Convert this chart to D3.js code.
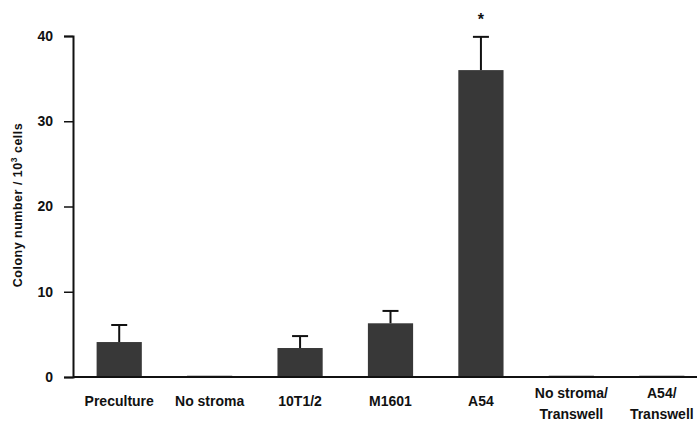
<!DOCTYPE html>
<html>
<head>
<meta charset="utf-8">
<script src="https://cdn.jsdelivr.net/npm/d3@7"></script>
<style>
  body { margin: 0; background: #fff; }
  svg { display: block; }
  text { font-family: "Liberation Sans", Arial, sans-serif; font-weight: bold; fill: #111; }
</style>
</head>
<body>
<svg width="699" height="421"></svg>
<script>
// categories and values
const categories = ["Preculture", "No stroma", "10T1/2", "M1601", "A54", "No stroma/\nTranswell", "A54/\nTranswell"];
const means = [4.1, 0.15, 3.4, 6.3, 36.0, 0.15, 0.15];
const errors = [2.0, 0, 1.4, 1.45, 3.9, 0, 0];
const significant = [false, false, false, false, true, false, false];
const yTicks = [0, 10, 20, 30, 40];

const svg = d3.select("svg");
const margin = {left: 73, top: 36, bottom: 377};

const x = d3.scaleBand()
    .domain(categories)
    .range([margin.left + 1, 707])
    .paddingInner(0.5)
    .paddingOuter(0.25);

const y = d3.scaleLinear()
    .domain([0, 40])
    .range([margin.bottom, margin.top]);

const data = categories.map((c, i) => ({cat: c, v: means[i], e: errors[i], sig: significant[i]}));

// bars
svg.selectAll(".bar")
    .data(data)
    .enter()
    .append("rect")
    .attr("class", "bar")
    .attr("x", (d) => x(d.cat))
    .attr("width", x.bandwidth())
    .attr("y", (d) => y(d.v))
    .attr("height", (d) => y(0) - y(d.v))
    .attr("fill", "#383838");

// error bars (upper only)
const err = svg.selectAll(".err")
    .data(data.filter((d) => d.e > 0))
    .enter()
    .append("g")
    .attr("class", "err")
    .attr("stroke", "#111")
    .attr("stroke-width", 2);

err.append("line")
    .attr("x1", (d) => x(d.cat) + x.bandwidth() / 2)
    .attr("x2", (d) => x(d.cat) + x.bandwidth() / 2)
    .attr("y1", (d) => y(d.v))
    .attr("y2", (d) => y(d.v + d.e));

err.append("line")
    .attr("x1", (d) => x(d.cat) + x.bandwidth() / 2 - 8)
    .attr("x2", (d) => x(d.cat) + x.bandwidth() / 2 + 8)
    .attr("y1", (d) => y(d.v + d.e))
    .attr("y2", (d) => y(d.v + d.e));

// significance star
svg.selectAll(".star")
    .data(data.filter((d) => d.sig))
    .enter()
    .append("text")
    .attr("class", "star")
    .attr("x", (d) => x(d.cat) + x.bandwidth() / 2)
    .attr("y", (d) => y(d.v + d.e) - 12)
    .attr("text-anchor", "middle")
    .style("font-size", "16px")
    .text("*");

// y axis
const yAxis = svg.append("g")
    .attr("transform", `translate(${margin.left},0)`)
    .call(d3.axisLeft(y).tickValues(yTicks).tickSize(9).tickPadding(11));
yAxis.select(".domain").attr("stroke", "#111").attr("stroke-width", 2);
yAxis.selectAll(".tick line").attr("stroke", "#111").attr("stroke-width", 1.5);
yAxis.selectAll(".tick text")
    .style("font-size", "14px")
    .style("font-family", "'Liberation Sans', Arial, sans-serif")
    .style("font-weight", "bold")
    .attr("fill", "#111");

// baseline
svg.append("line")
    .attr("x1", margin.left)
    .attr("x2", 697)
    .attr("y1", y(0))
    .attr("y2", y(0))
    .attr("stroke", "#111")
    .attr("stroke-width", 2);

// x labels
const labels = svg.selectAll(".xlab")
    .data(categories)
    .enter()
    .append("text")
    .attr("class", "xlab")
    .attr("x", (d) => x(d) + x.bandwidth() / 2)
    .attr("y", (d) => d.includes("\n") ? 398 : 406)
    .attr("text-anchor", "middle")
    .style("font-size", "14px");

labels.selectAll("tspan")
    .data((d) => d.split("\n"))
    .enter()
    .append("tspan")
    .attr("x", function() { return d3.select(this.parentNode).attr("x"); })
    .attr("dy", (d, i) => i === 0 ? 0 : 21)
    .text((d) => d);

// y title
const title = svg.append("text")
    .attr("transform", "translate(22,205) rotate(-90)")
    .attr("text-anchor", "middle")
    .style("font-size", "12.5px")
    .style("letter-spacing", "0.5px");
title.append("tspan").text("Colony number / 10");
title.append("tspan").attr("dy", -5).style("font-size", "8.5px").text("3");
title.append("tspan").attr("dy", 5).text(" cells");
</script>
</body>
</html>
